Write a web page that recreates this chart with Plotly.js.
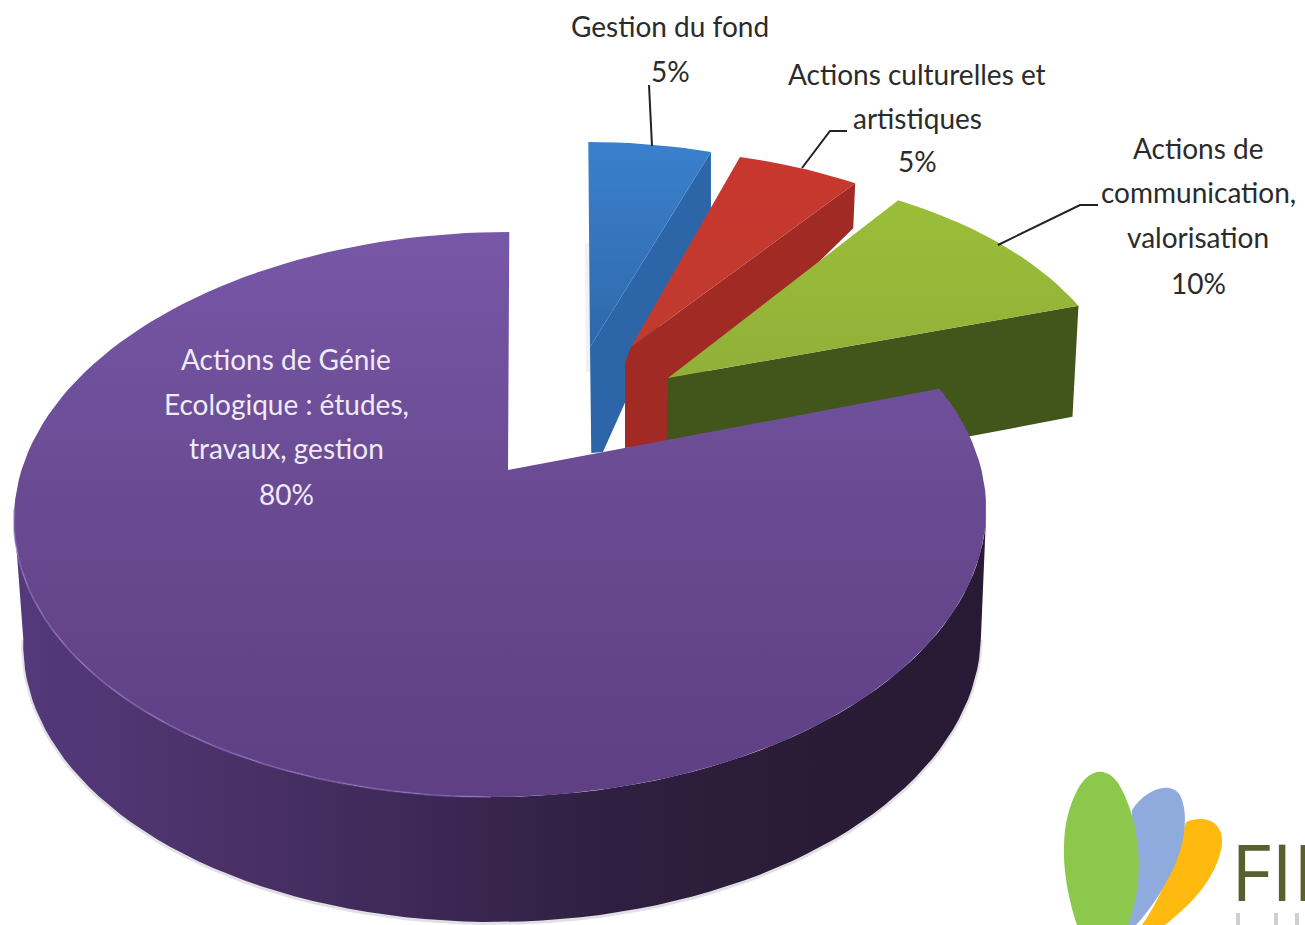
<!DOCTYPE html>
<html>
<head>
<meta charset="utf-8">
<script src="https://cdn.plot.ly/plotly-3.0.1.min.js"></script>
<style>html,body{margin:0;padding:0;background:#fff;overflow:hidden}#chart{width:1305px;height:925px}</style>
</head>
<body>
<div id="chart"></div>
<script>
// ---- data ----
const categories = ["Gestion du fond", "Actions culturelles et artistiques", "Actions de communication, valorisation", "Actions de Génie Ecologique : études, travaux, gestion"];
const values = [5, 5, 10, 80];

// ---- label lines ----
const labelLines = [
  ["Gestion du fond", "5%"],
  ["Actions culturelles et", "artistiques", "5%"],
  ["Actions de", "communication,", "valorisation", "10%"],
  ["Actions de Génie", "Ecologique : études,", "travaux, gestion", "80%"]
];
const labelX = [670, 917, 1198, 286];
const labelY = [[26, 71], [74, 118, 161], [148, 192, 237, 283], [359, 404, 448, 494]];
const labelColor = ["#2b2b2b", "#2b2b2b", "#2b2b2b", "#efeaf5"];

// ---- 3D projection of the pie ----
const K = 0.1575, A = 275.5, B = 480, X0 = 501.5, XS = 9, Y0 = 470, DEPTH = 125;
function proj(deg) {
  const t = deg * Math.PI / 180, u = Math.sin(t), v = Math.cos(t), d = 1 + K * v;
  return [X0 + (B * u + XS * v) / d, Y0 - A * v / d];
}
function base(p) { return [X0 + 2 + (p[0] - X0) * 0.985, p[1] + DEPTH]; }

// per-slice explode offsets (start of arc, end of arc) and apex/wall geometry
const explodeStart = [[79, -90], [102, -85], [140, -72], [0, 0]];
const explodeEnd   = [[73, -90], [97, -89], [139, -83], [0, 0]];
const apexTop = [[590, 347], [631, 347], [668, 378], [508, 470]];

function arcPts(a0, a1, o0, o1) {
  const pts = [], n = Math.max(2, Math.round(Math.abs(a1 - a0) / 2));
  for (let i = 0; i <= n; i++) {
    const f = i / n, p = proj(a0 + (a1 - a0) * f);
    pts.push([p[0] + o0[0] + (o1[0] - o0[0]) * f, p[1] + o0[1] + (o1[1] - o0[1]) * f]);
  }
  return pts;
}
const total = values.reduce((s, v) => s + v, 0);
const starts = []; let acc = 0;
values.forEach(v => { starts.push(acc / total * 360); acc += v; });
const ends = values.map((v, i) => starts[i] + v / total * 360);

function poly(pts, extra) {
  return Object.assign({
    type: "scatter", mode: "lines", x: pts.map(p => p[0]), y: pts.map(p => p[1]),
    fill: "toself", line: { width: 0 }, hoverinfo: "skip", showlegend: false
  }, extra);
}
function vgrad(y0, y1, stops) {
  return { fillgradient: { type: "vertical", start: y0, stop: y1, colorscale: stops } };
}

const topPts = values.map((v, i) => arcPts(starts[i], ends[i], explodeStart[i], explodeEnd[i]));
const traces = [];

// Blue slice
{
  const a = topPts[0], e = a[a.length - 1], s = a[0];
  traces.push(poly([[585, 243], [590, 243], [590, 372], [586, 372]], { fillcolor: "rgba(120,140,170,0.12)" }));
  traces.push(poly([e, [e[0], e[1] + 58], [e[0] - 108, e[1] + 300], [s[0] + 3, e[1] + 301], apexTop[0]], { fillcolor: "#2c66a9" }));
  traces.push(poly(a.concat([apexTop[0]]), vgrad(s[1], apexTop[0][1], [[0, "#3a80cd"], [0.6, "#3472b8"], [1, "#2d68aa"]])));
}
// Red slice
{
  const a = topPts[1], e = a[a.length - 1];
  traces.push(poly([e, [e[0] - 2, e[1] + 45], [700, 378], [690, 441], [625, 448], [625, 363], apexTop[1]], { fillcolor: "#a12b24" }));
  traces.push(poly(a.concat([apexTop[1]]), vgrad(a[0][1], apexTop[1][1], [[0, "#c8372e"], [1, "#c03a30"]])));
}
// Green slice
{
  const a = topPts[2], e = a[a.length - 1];
  traces.push(poly([apexTop[2], e, [e[0] - 6, e[1] + 111], [950, 440], [666, 470]], { fillcolor: "#42561b" }));
  traces.push(poly(a.concat([apexTop[2]]), vgrad(a[0][1], apexTop[2][1], [[0, "#9bbe38"], [1, "#90b038"]])));
}
// Purple slice: soft shadow, wall, top, rim
{
  const wallTop = arcPts(99, 261, [0, 0], [0, 0]);
  const wallBot = wallTop.map(base);
  traces.push(Object.assign(poly(wallBot.map(p => [p[0], p[1] + 1]), {}), { fill: "none", line: { color: "rgba(70,60,90,0.16)", width: 4 } }));
  const wall = wallTop.concat(wallBot.slice().reverse());
  traces.push(poly(wall, { fillgradient: { type: "horizontal", start: 15, stop: 988,
    colorscale: [[0, "#54397c"], [0.2, "#4b3269"], [0.4, "#3e2958"], [0.6, "#2f2042"], [0.8, "#2a1b36"], [1, "#281a34"]] } }));
  const a = topPts[3];
  traces.push(poly(a.concat([apexTop[3]]), vgrad(232, 797, [[0, "#7757a7"], [0.45, "#6a4b93"], [1, "#5e3f84"]])));
  const rimL = arcPts(180, 262, [0, 0], [0, 0]);
  traces.push(Object.assign(poly(rimL, {}), { fill: "none", line: { color: "rgba(140,110,190,0.55)", width: 2 } }));
}
// Leader lines
const leaderX = [[652, 649], [802, 830, 847], [998, 1080, 1098]];
const leaderY = [[146, 85], [168, 131, 131], [245, 205, 205]];
leaderX.forEach((lx, i) => traces.push({
  type: "scatter", mode: "lines", x: lx, y: leaderY[i], line: { color: "#222", width: 2 },
  hoverinfo: "skip", showlegend: false
}));

// Labels
const annotations = [];
labelLines.forEach((lines, i) => lines.forEach((txt, j) => annotations.push({
  x: labelX[i], y: labelY[i][j], xref: "x", yref: "y", text: txt, showarrow: false,
  xanchor: "center", yanchor: "middle",
  font: { family: "Lato, 'Noto Sans', sans-serif", size: 28, color: labelColor[i] }
})));
// Logo wordmark
annotations.push({
  x: 1229, y: 871, xref: "x", yref: "y", text: "FIF", showarrow: false, xanchor: "left", yanchor: "middle",
  font: { family: "'Open Sans', sans-serif", size: 78, color: "#5a5f30" }
});

const shapes = [
  { type: "path", layer: "above", fillcolor: "#ffb90f", line: { width: 0 },
    path: "M1142,925 C1160,900 1176,860 1186,822 C1203,815 1224,820 1222,845 C1216,880 1190,905 1165,925 Z" },
  { type: "path", layer: "above", fillcolor: "#8faadc", line: { width: 0 },
    path: "M1128,925 L1132,810 C1145,790 1170,780 1180,795 C1190,815 1184,850 1170,875 C1160,895 1148,912 1136,925 Z" },
  { type: "path", layer: "above", fillcolor: "#8cc84b", line: { width: 0 },
    path: "M1077,925 C1062,880 1058,830 1075,795 C1088,765 1110,765 1122,790 C1140,825 1146,880 1128,925 Z" },
  { type: "rect", layer: "above", x0: 1236, x1: 1240, y0: 913, y1: 925, fillcolor: "#cfcfcf", line: { width: 0 } },
  { type: "rect", layer: "above", x0: 1274, x1: 1278, y0: 913, y1: 925, fillcolor: "#cfcfcf", line: { width: 0 } },
  { type: "rect", layer: "above", x0: 1295, x1: 1299, y0: 913, y1: 925, fillcolor: "#cfcfcf", line: { width: 0 } }
];

const hiddenAxis = { visible: false, fixedrange: true, showgrid: false, zeroline: false };
Plotly.newPlot("chart", traces, {
  width: 1305, height: 925, margin: { l: 0, r: 0, t: 0, b: 0 }, showlegend: false,
  paper_bgcolor: "#ffffff", plot_bgcolor: "#ffffff",
  xaxis: Object.assign({ range: [0, 1305] }, hiddenAxis),
  yaxis: Object.assign({ range: [925, 0] }, hiddenAxis),
  annotations, shapes
}, { displayModeBar: false, staticPlot: true });
</script>
</body>
</html>
